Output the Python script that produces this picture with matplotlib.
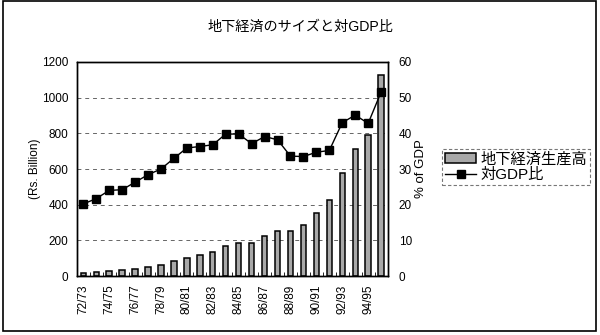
"""Underground economy size (Rs. billion) with its ratio to GDP, 1972/73-1995/96."""
import matplotlib
matplotlib.use("Agg")
import matplotlib.pyplot as plt
from matplotlib.patches import Rectangle
import numpy as np

plt.rcParams["font.family"] = ["Liberation Sans", "Noto Sans CJK JP"]

years = [f"{y % 100:02d}/{(y + 1) % 100:02d}" for y in range(1972, 1996)]
output_bn = [15, 21, 28, 34, 37, 49, 60, 83, 99, 118, 133, 167,
             188, 188, 225, 255, 255, 287, 356, 427, 578, 712, 793, 1125]
pct_gdp = [20.2, 21.7, 24.0, 24.2, 26.3, 28.4, 30.0, 33.0, 35.9, 36.3, 36.8, 39.8,
           39.8, 37.1, 39.1, 38.2, 33.6, 33.5, 34.7, 35.2, 43.0, 45.1, 42.8, 51.6]

fig = plt.figure(figsize=(6, 3.35), dpi=100)
ax = fig.add_axes([0.128, 0.176, 0.518, 0.639])
ax2 = ax.twinx()

x = np.arange(len(years))
ax.bar(x, output_bn, width=0.42, color="#a8a8a8", edgecolor="black",
       linewidth=1.1, label="地下経済生産高", zorder=2)
ax2.plot(x, pct_gdp, color="black", linewidth=1.0, marker="s", markersize=6,
         label="対GDP比", zorder=3)

ax.set_xlim(-0.5, len(years) - 0.5)
ax.set_ylim(0, 1200)
ax.set_yticks(np.arange(0, 1201, 200))
ax2.set_ylim(0, 60)
ax2.set_yticks(np.arange(0, 61, 10))

ax.yaxis.grid(True, linestyle=(0, (4, 4)), color="#666666", linewidth=0.7)
ax.set_axisbelow(True)

ax.set_xticks(x)
ax.set_xticklabels([lbl if i % 2 == 0 else "" for i, lbl in enumerate(years)],
                   rotation=90, fontsize=8.5)
ax.tick_params(axis="x", length=0, pad=6)
ax.set_xticks(x[:-1] + 0.5, minor=True)
ax.tick_params(axis="x", which="minor", direction="in", length=3)
ax.tick_params(axis="y", length=0, labelsize=8.5, pad=6)
ax2.tick_params(axis="y", length=0, labelsize=8.5, pad=8)

ax.set_ylabel("(Rs. Billion)", fontsize=8.5, labelpad=1)
ax2.set_ylabel("% of GDP", fontsize=9.5, labelpad=2)

for spine in list(ax.spines.values()) + list(ax2.spines.values()):
    spine.set_linewidth(1.0)
    spine.set_color("black")

fig.text(0.5, 0.919, "地下経済のサイズと対GDP比", ha="center", va="center", fontsize=10.2)

h1, l1 = ax.get_legend_handles_labels()
h2, l2 = ax2.get_legend_handles_labels()
leg = fig.legend(h1 + h2, l1 + l2, loc="center left", bbox_to_anchor=(0.737, 0.502),
                 fontsize=11, frameon=True, fancybox=False, borderpad=0.2,
                 handlelength=2.0, handleheight=0.6, handletextpad=0.3,
                 labelspacing=0.1, borderaxespad=0)
leg.get_frame().set_edgecolor("#555555")
leg.get_frame().set_linestyle((0, (3, 2)))
leg.get_frame().set_linewidth(0.8)

# outer frame around the whole chart
fig.patches.append(Rectangle((0.005, 0.012), 0.988, 0.984, transform=fig.transFigure,
                             fill=False, edgecolor="black", linewidth=1.2))

fig.savefig("out.png", dpi=100)
plt.close(fig)
